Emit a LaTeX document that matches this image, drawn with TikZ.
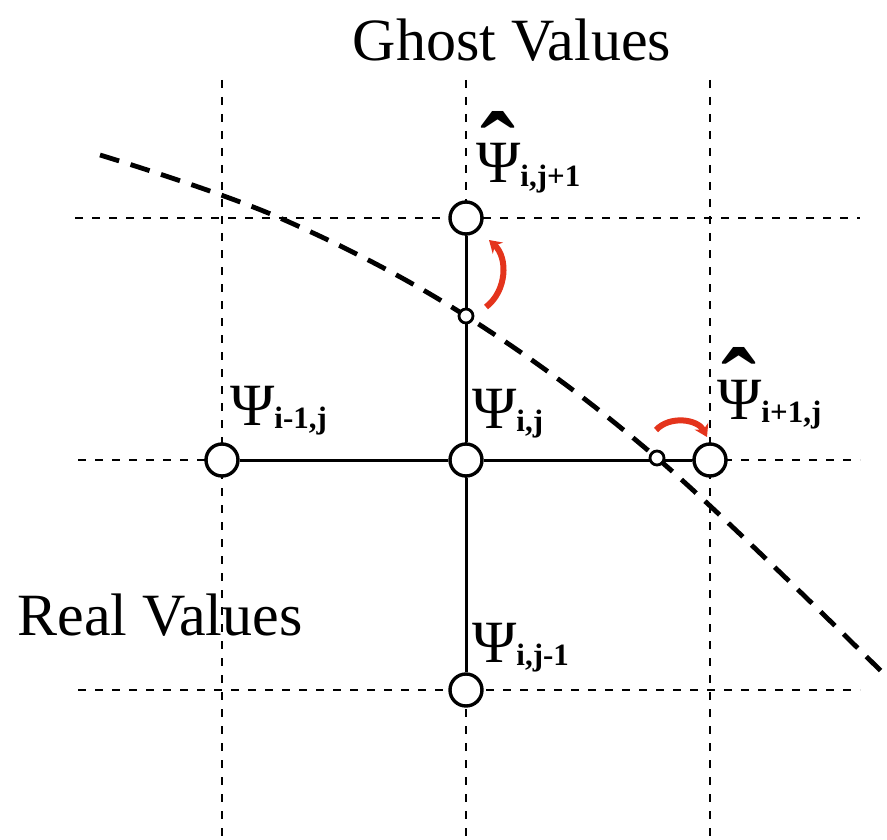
\documentclass[tikz,border=0pt]{standalone}
\usepackage{fontspec}
\setmainfont{Liberation Serif}
\usetikzlibrary{arrows.meta}
\definecolor{arrowred}{RGB}{228,52,28}
\tikzset{
  gridline/.style={line width=2.7pt, dash pattern=on 8pt off 9pt},
  solidline/.style={line width=3pt},
  bigpt/.style={circle, draw, fill=white, line width=3.4pt, minimum size=32pt, inner sep=0pt},
  smallpt/.style={circle, draw, fill=white, line width=2.8pt, minimum size=14pt, inner sep=0pt},
  boundary/.style={line width=4.8pt, dash pattern=on 20pt off 12pt},
  shiftarrow/.style={arrowred, line width=6pt, -{Stealth[length=12pt,width=15pt]}},
  psilabel/.style={anchor=base west, inner sep=0pt, font=\fontsize{60}{60}\selectfont},
  title/.style={inner sep=0pt, font=\fontsize{60}{60}\selectfont}
}
\newcommand{\subidx}[1]{\raisebox{-3pt}{\fontsize{31}{31}\selectfont\bfseries #1}}
\newcommand{\hatpsi}{\setbox0\hbox{Ψ}\rlap{\makebox[\wd0][c]{\raisebox{-2pt}{\fontsize{105}{105}\selectfont\bfseries ˆ}}}Ψ}
\begin{document}
\begin{tikzpicture}[x=1pt,y=-1pt]
\useasboundingbox (0,0) rectangle (887,840);
% grid
\draw[gridline] (222,80) -- (222,840);
\draw[gridline] (466,80) -- (466,840);
\draw[gridline] (710,80) -- (710,840);
\draw[gridline] (75,218) -- (860,218);
\draw[gridline] (78,460) -- (860,460);
\draw[gridline] (78,690) -- (860,690);
% boundary curve
\draw[boundary] plot[smooth, tension=0.6] coordinates {(100,155) (280,218) (466,316) (657,458) (885,675)};
% grid points
\node[bigpt] (top) at (466,218) {};
\node[bigpt] (left) at (222,460) {};
\node[bigpt] (center) at (466,460) {};
\node[bigpt] (right) at (710,460) {};
\node[bigpt] (bottom) at (466,690) {};
\draw[solidline] (top) -- (center) -- (bottom);
\draw[solidline] (left) -- (center) -- (right);
\node[smallpt] (bt) at (466,316) {};
\node[smallpt] (br) at (657,458) {};
% red arrows
\coordinate (a1s) at (486,307);
\coordinate (a1e) at (489,240);
\coordinate (a2s) at (656,430);
\coordinate (a2e) at (707,437);
\draw[shiftarrow] (a1s) to[bend right=50] (a1e);
\draw[shiftarrow] (a2s) to[bend left=55] (a2e);
% labels
\node[psilabel] (lt) at (476,183) {\hatpsi\subidx{i,j+1}};
\node[psilabel] (ll) at (230,425) {Ψ\subidx{i-1,j}};
\node[psilabel] (lc) at (472,428) {Ψ\subidx{i,j}};
\node[psilabel] (lr) at (717,419) {\hatpsi\subidx{i+1,j}};
\node[psilabel] (lb) at (472,662) {Ψ\subidx{i,j-1}};
\node[title] (ghost) at (512,40) {Ghost Values};
\node[title] (real) at (160,615) {Real Values};
\end{tikzpicture}
\end{document}
